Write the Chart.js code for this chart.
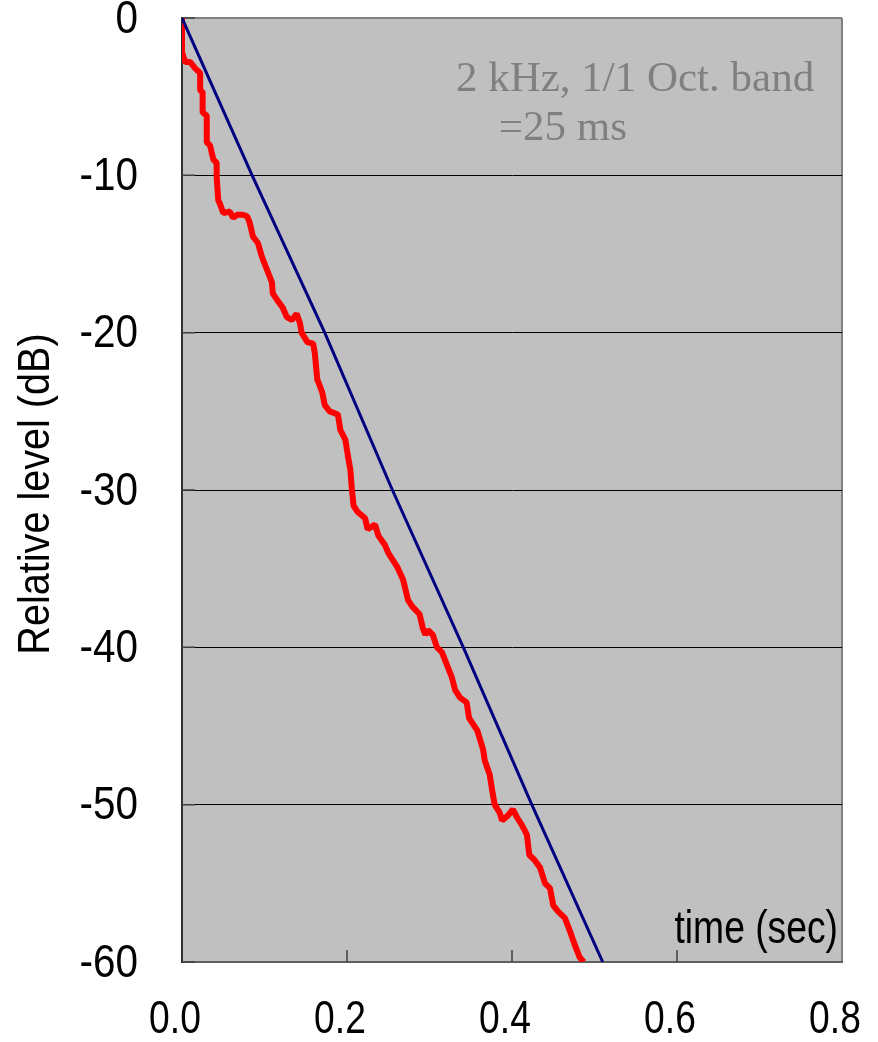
<!DOCTYPE html>
<html>
<head>
<meta charset="utf-8">
<title>Decay curve, 2 kHz</title>
<script src="https://cdn.jsdelivr.net/npm/chart.js@4.4.0/dist/chart.umd.min.js"></script>
<style>
  body { margin: 0; background: #fff; }
  canvas { display: block; }
</style>
</head>
<body>
<canvas id="chart" width="878" height="1042"></canvas>
<script>
// measured decay, 2 kHz octave band (time in s, level in dB)
const redTime = [
  0, 0, 0.004, 0.010, 0.016, 0.022, 0.022, 0.025, 0.025, 0.030,
  0.030, 0.034, 0.038, 0.042, 0.042, 0.044, 0.046, 0.050, 0.058, 0.062,
  0.067, 0.073, 0.079, 0.082, 0.086, 0.092, 0.097, 0.103, 0.109, 0.110,
  0.115, 0.122, 0.127, 0.133, 0.139, 0.143, 0.145, 0.152, 0.159, 0.161,
  0.164, 0.165, 0.170, 0.173, 0.179, 0.189, 0.192, 0.198, 0.201, 0.204,
  0.206, 0.208, 0.213, 0.222, 0.225, 0.234, 0.238, 0.246, 0.250, 0.261,
  0.268, 0.274, 0.279, 0.288, 0.292, 0.295, 0.298, 0.304, 0.309, 0.315,
  0.321, 0.327, 0.331, 0.337, 0.345, 0.348, 0.358, 0.365, 0.367, 0.373,
  0.376, 0.379, 0.385, 0.388, 0.395, 0.401, 0.406, 0.412, 0.418, 0.421,
  0.427, 0.434, 0.440, 0.446, 0.450, 0.456, 0.464, 0.470, 0.476, 0.482,
  0.487
];
const redLevel = [
  0, -2.2, -2.8, -2.8, -3.2, -3.5, -4.6, -4.7, -6.0, -6.2,
  -7.9, -8.1, -9.0, -9.2, -10.1, -11.6, -11.8, -12.4, -12.3, -12.7,
  -12.5, -12.5, -12.6, -13.0, -13.9, -14.3, -15.2, -16.0, -16.8, -17.5,
  -17.9, -18.4, -19.0, -19.2, -18.8, -19.4, -20.0, -20.6, -20.7, -21.3,
  -23.0, -23.1, -23.8, -24.6, -25.0, -25.2, -26.2, -26.8, -27.8, -28.7,
  -30.0, -31.0, -31.4, -31.8, -32.5, -32.2, -32.9, -33.5, -34.0, -34.9,
  -35.7, -37.0, -37.4, -37.9, -38.8, -39.2, -38.9, -39.2, -40.0, -40.3,
  -41.1, -41.9, -42.7, -43.2, -43.5, -44.5, -45.3, -46.5, -47.2, -48.1,
  -49.1, -50.0, -50.5, -51.0, -50.7, -50.3, -50.8, -51.3, -51.9, -53.2,
  -53.5, -54.0, -55.0, -55.3, -56.4, -56.8, -57.2, -58.0, -58.9, -59.7,
  -60.0
];

// straight-line decay
const blueTime = [0, 0.085, 0.173, 0.255, 0.341, 0.424, 0.510];
const blueLevel = [0, -10, -20, -30, -40, -50, -60];

const xTicks = [0, 0.2, 0.4, 0.6, 0.8];
const yTicks = [0, -10, -20, -30, -40, -50, -60];

const bandText = ['2 kHz, 1/1 Oct. band', '=25 ms'];
const xTitle = 'time (sec)';
const yTitle = 'Relative level (dB)';

const sans = '"Liberation Sans", Arial, sans-serif';

function toPoints(xs, ys) {
  return xs.map((x, i) => ({ x: x, y: ys[i] }));
}

// text squeezed sideways, like a narrow face
function narrowText(ctx, text, x, y, align, sx, angle) {
  ctx.save();
  ctx.translate(x, y);
  if (angle) ctx.rotate(angle);
  ctx.scale(sx, 1);
  ctx.textAlign = align;
  ctx.fillText(text, 0, 0);
  ctx.restore();
}

// grey plot area, inward ticks, labels and the text inside the plot
const plotDecor = {
  id: 'plotDecor',
  beforeDraw(chart) {
    const { ctx, chartArea: a } = chart;
    ctx.save();
    ctx.fillStyle = '#c0c0c0';
    ctx.fillRect(a.left, a.top, a.width, a.height);
    ctx.restore();
  },
  beforeDatasetsDraw(chart) {
    const { ctx, chartArea: a, scales } = chart;
    ctx.save();
    ctx.strokeStyle = '#404040';
    ctx.lineWidth = 1.5;
    ctx.beginPath();
    xTicks.slice(1, -1).forEach(v => {
      const px = scales.x.getPixelForValue(v);
      ctx.moveTo(px, a.bottom);
      ctx.lineTo(px, a.bottom - 12);
    });
    yTicks.forEach(v => {
      const py = scales.y.getPixelForValue(v);
      ctx.moveTo(a.left, py);
      ctx.lineTo(a.left + 13, py);
    });
    ctx.stroke();
    ctx.restore();
  },
  afterDraw(chart) {
    const { ctx, chartArea: a, scales } = chart;
    ctx.save();

    // note in the upper right
    ctx.fillStyle = '#808080';
    ctx.font = '43px "Liberation Serif", "Times New Roman", serif';
    ctx.textBaseline = 'alphabetic';
    narrowText(ctx, bandText[0], scales.x.getPixelForValue(0.332), scales.y.getPixelForValue(-4.64), 'left', 1, 0);
    narrowText(ctx, bandText[1], scales.x.getPixelForValue(0.384), scales.y.getPixelForValue(-7.75), 'left', 1, 0);

    // tick labels
    ctx.fillStyle = '#000';
    ctx.font = '46px ' + sans;
    ctx.textBaseline = 'middle';
    xTicks.forEach(v => {
      narrowText(ctx, v.toFixed(1), scales.x.getPixelForValue(v) - 7, a.bottom + 58, 'center', 0.81, 0);
    });
    yTicks.forEach(v => {
      narrowText(ctx, String(v), a.left - 44, scales.y.getPixelForValue(v) + 2, 'right', 0.88, 0);
    });

    // axis titles
    ctx.textBaseline = 'alphabetic';
    narrowText(ctx, xTitle, a.right - 4, a.bottom - 19, 'right', 0.81, 0);
    ctx.font = '44px ' + sans;
    ctx.textBaseline = 'middle';
    narrowText(ctx, yTitle, 37, (a.top + a.bottom) / 2 + 4, 'center', 0.9, -Math.PI / 2);
    ctx.restore();
  }
};

new Chart(document.getElementById('chart'), {
  type: 'line',
  data: {
    datasets: [
      {
        data: toPoints(blueTime, blueLevel),
        borderColor: '#000080',
        borderWidth: 3,
        pointRadius: 0,
        tension: 0
      },
      {
        data: toPoints(redTime, redLevel),
        borderColor: '#ff0000',
        borderWidth: 6,
        borderJoinStyle: 'bevel',
        pointRadius: 0,
        tension: 0
      }
    ]
  },
  options: {
    responsive: false,
    animation: false,
    devicePixelRatio: 1,
    layout: { padding: { top: 18, right: 36, left: 0, bottom: 0 } },
    plugins: {
      legend: { display: false },
      tooltip: { enabled: false }
    },
    scales: {
      x: {
        type: 'linear',
        min: 0,
        max: 0.8,
        afterBuildTicks: s => { s.ticks = xTicks.map(v => ({ value: v })); },
        afterFit: s => {
          s.height = 80;
          s.paddingLeft = 0;
          s.paddingRight = 0;
        },
        ticks: { display: false },
        grid: {
          drawTicks: false,
          color: c => (c.tick && c.tick.value === 0.8 ? '#808080' : 'rgba(0,0,0,0)'),
          lineWidth: 2
        },
        border: { color: '#606060', width: 2 }
      },
      y: {
        type: 'linear',
        min: -60,
        max: 0,
        afterBuildTicks: s => { s.ticks = yTicks.map(v => ({ value: v })); },
        afterFit: s => {
          s.width = 182;
          s.paddingTop = 0;
          s.paddingBottom = 0;
        },
        ticks: { display: false },
        grid: {
          drawTicks: false,
          color: c => (c.tick && c.tick.value === 0 ? '#808080' : '#000'),
          lineWidth: c => (c.tick && c.tick.value === 0 ? 2 : 1)
        },
        border: { color: '#303030', width: 2 }
      }
    }
  },
  plugins: [plotDecor]
});
</script>
</body>
</html>
